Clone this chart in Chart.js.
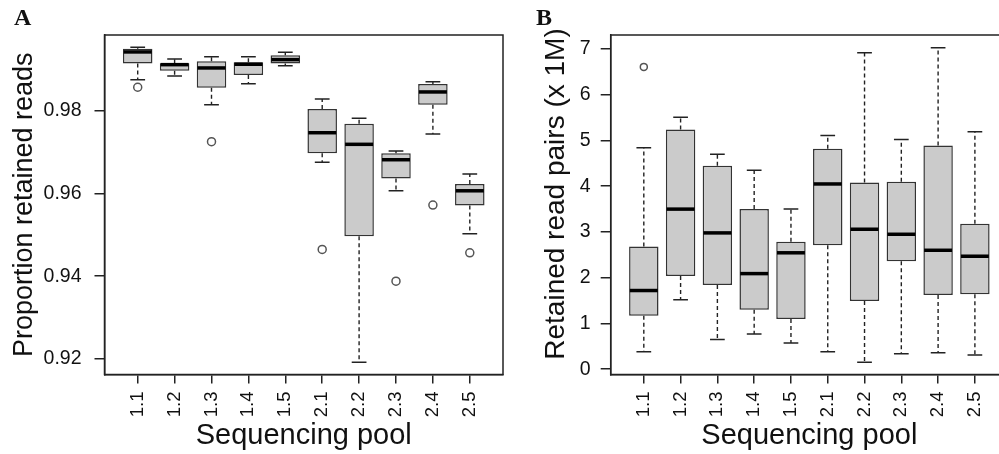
<!DOCTYPE html>
<html><head><meta charset="utf-8">
<script src="https://cdn.jsdelivr.net/npm/chart.js@4"></script>
<style>
html,body{margin:0;padding:0;background:#fff;overflow:hidden;width:999px;height:454px;}
#wrap{position:relative;width:999px;height:454px;overflow:hidden;background:#fff;}
canvas{position:absolute;top:0;}
#cA{left:0;} #cB{left:500px;}
.lab{position:absolute;font:bold 24px 'Liberation Serif','Times New Roman',serif;color:#111;line-height:24px;}
</style></head><body>
<div id="wrap">
<canvas id="cA" width="520" height="454"></canvas>
<canvas id="cB" width="530" height="454"></canvas>
<div class="lab" style="left:14px;top:5px">A</div>
<div class="lab" style="left:536px;top:5px">B</div>
</div>
<script>
// ---- data ----
const pools = ['1.1','1.2','1.3','1.4','1.5','2.1','2.2','2.3','2.4','2.5'];

// Panel A: proportion retained reads
const propLowerWhisker = [0.98759,0.98848,0.98153,0.98662,0.99098,0.96756,0.91915,0.96068,0.97442,0.95025];
const propQ1           = [0.99147,0.98977,0.98565,0.98873,0.99147,0.96974,0.94970,0.96368,0.98153,0.95714];
const propMedian       = [0.99430,0.99122,0.99042,0.99132,0.99244,0.97474,0.97193,0.96820,0.98461,0.96068];
const propQ3           = [0.99510,0.99156,0.99205,0.99181,0.99350,0.98048,0.97692,0.96974,0.98655,0.96230];
const propUpperWhisker = [0.99544,0.99261,0.99316,0.99316,0.99423,0.98291,0.97823,0.97030,0.98710,0.96473];
const propOutliers     = [[0.98575],[],[0.97256],[],[],[0.94647],[],[0.93879],[0.95721],[0.94565]];
const propTicks = [0.92,0.94,0.96,0.98];

// Panel B: retained read pairs (x 1M)
const readsLowerWhisker = [0.38,1.52,0.65,0.77,0.575,0.38,0.15,0.335,0.357,0.31];
const readsQ1           = [1.17,2.04,1.84,1.30,1.10,2.71,1.49,2.36,1.62,1.64];
const readsMedian       = [1.72,3.50,2.98,2.09,2.545,4.05,3.06,2.95,2.60,2.47];
const readsQ3           = [2.68,5.24,4.45,3.50,2.785,4.82,4.08,4.10,4.89,3.18];
const readsUpperWhisker = [4.84,5.51,4.70,4.35,3.50,5.11,6.92,5.02,7.03,5.19];
const readsOutliers     = [[6.61],[],[],[],[],[],[],[],[],[]];
const readsTicks = [0,1,2,3,4,5,6,7];

// ---- drawing ----
const FAM = "'Liberation Sans', Arial, sans-serif";
const INK = '#222';

function decor(s){
  return {
    id: 'decor',
    afterDatasetsDraw(chart){
      const {ctx, chartArea:a, scales:{x, y}} = chart;
      const u = x.getPixelForValue(2) - x.getPixelForValue(1);
      const halfCap = u * 0.2, halfBox = u * 0.4;
      ctx.save();
      ctx.strokeStyle = INK;
      for (let i = 0; i < pools.length; i++){
        const cx = x.getPixelForValue(i + 1);
        const yl = y.getPixelForValue(s.lo[i]), y1 = y.getPixelForValue(s.q1[i]);
        const ym = y.getPixelForValue(s.med[i]), y3 = y.getPixelForValue(s.q3[i]);
        const yh = y.getPixelForValue(s.hi[i]);
        ctx.setLineDash([4, 3]); ctx.lineWidth = 1.4;
        ctx.beginPath();
        ctx.moveTo(cx, y3); ctx.lineTo(cx, yh);
        ctx.moveTo(cx, y1); ctx.lineTo(cx, yl);
        ctx.stroke();
        ctx.setLineDash([]); ctx.lineWidth = 1.5;
        ctx.beginPath();
        ctx.moveTo(cx - halfCap, yh); ctx.lineTo(cx + halfCap, yh);
        ctx.moveTo(cx - halfCap, yl); ctx.lineTo(cx + halfCap, yl);
        ctx.stroke();
        ctx.strokeStyle = '#000'; ctx.lineWidth = 3.5;
        ctx.beginPath();
        ctx.moveTo(cx - halfBox + 0.75, ym); ctx.lineTo(cx + halfBox - 0.75, ym);
        ctx.stroke();
        ctx.strokeStyle = INK;
      }
      ctx.lineWidth = 1.5;
      ctx.strokeRect(a.left, a.top, a.right - a.left, a.bottom - a.top);
      if (s.sideTitle){
        const t = s.sideTitle;
        ctx.translate(t.x, t.y); ctx.rotate(-Math.PI / 2);
        ctx.font = t.size + 'px ' + FAM; ctx.fillStyle = '#111';
        ctx.textAlign = 'center'; ctx.textBaseline = 'middle';
        ctx.fillText(t.text, 0, 0);
      }
      ctx.restore();
    }
  };
}

function build(id, s){
  const gridOpts = (len) => ({display:true, drawOnChartArea:false, drawTicks:true, tickLength:len, color:INK, lineWidth:1.5, offset:false});
  return new Chart(document.getElementById(id), {
    type: 'bar',
    data: {
      datasets: [
        { type:'bar', order:2,
          data: pools.map((p, i) => ({x: i + 1, y: [s.q1[i], s.q3[i]]})),
          backgroundColor:'#cbcbcb', borderColor:'#333', borderWidth:1.5, borderSkipped:false,
          categoryPercentage:1, barPercentage:0.8 },
        { type:'scatter', order:1,
          data: pools.flatMap((p, i) => s.out[i].map(v => ({x: i + 1, y: v}))),
          pointStyle:'circle', pointRadius:s.r, pointBorderColor:'#555',
          pointBackgroundColor:'rgba(0,0,0,0)', pointBorderWidth:1.5 }
      ]
    },
    options: {
      responsive:false, animation:false, events:[],
      layout:{padding:{left:0, top:s.top, right:s.padRight, bottom:0}},
      plugins:{legend:{display:false}, tooltip:{enabled:false}},
      scales:{
        x:{ type:'linear', min:0.1, max:10.9, offset:false,
            afterBuildTicks: sc => { sc.ticks = pools.map((p, i) => ({value: i + 1})); },
            afterFit: sc => { sc.height = s.xH; },
            grid: gridOpts(9),
            border:{display:true, color:INK, width:1.5},
            ticks:{autoSkip:false, minRotation:90, maxRotation:90, padding:8, color:'#111',
                   font:{family:FAM, size:18.5}, callback: v => pools[Math.round(v) - 1]},
            title:{display:true, text:'Sequencing pool', color:'#111',
                   font:{family:FAM, size:29}, padding:{top:0, bottom:1}} },
        y:{ type:'linear', min:s.yMin, max:s.yMax, beginAtZero:false,
            afterBuildTicks: sc => { sc.ticks = s.ticks.map(v => ({value: v})); },
            afterFit: sc => { sc.width = s.yW; },
            grid: gridOpts(10),
            border:{display:true, color:INK, width:1.5},
            ticks:{padding:s.tickPad, color:'#111', font:{family:FAM, size:19.5}, callback: s.fmt},
            title:{display:!s.sideTitle, text:s.yTitle, color:'#111',
                   font:{family:FAM, size:27}, padding:{top:s.titlePad, bottom:0}} }
      }
    },
    plugins:[decor(s)]
  });
}

build('cA', {
  lo:propLowerWhisker, q1:propQ1, med:propMedian, q3:propQ3, hi:propUpperWhisker, out:propOutliers,
  ticks:propTicks, fmt: v => v.toFixed(2), yMin:0.9162, yMax:0.9984, tickPad:13,
  yTitle:'Proportion retained reads', titlePad:8, top:35, yW:104.5, xH:79.5, padRight:17, r:4
});
build('cB', {
  lo:readsLowerWhisker, q1:readsQ1, med:readsMedian, q3:readsQ3, hi:readsUpperWhisker, out:readsOutliers,
  ticks:readsTicks, fmt: v => String(v), yMin:-0.116, yMax:7.307, tickPad:10,
  yTitle:'Retained read pairs (x 1M)', titlePad:40, top:35, yW:110.7, xH:79.5, padRight:22, r:3.5,
  sideTitle:{text:'Retained read pairs (x 1M)', x:56, y:194, size:28}
});
</script>
</body></html>
